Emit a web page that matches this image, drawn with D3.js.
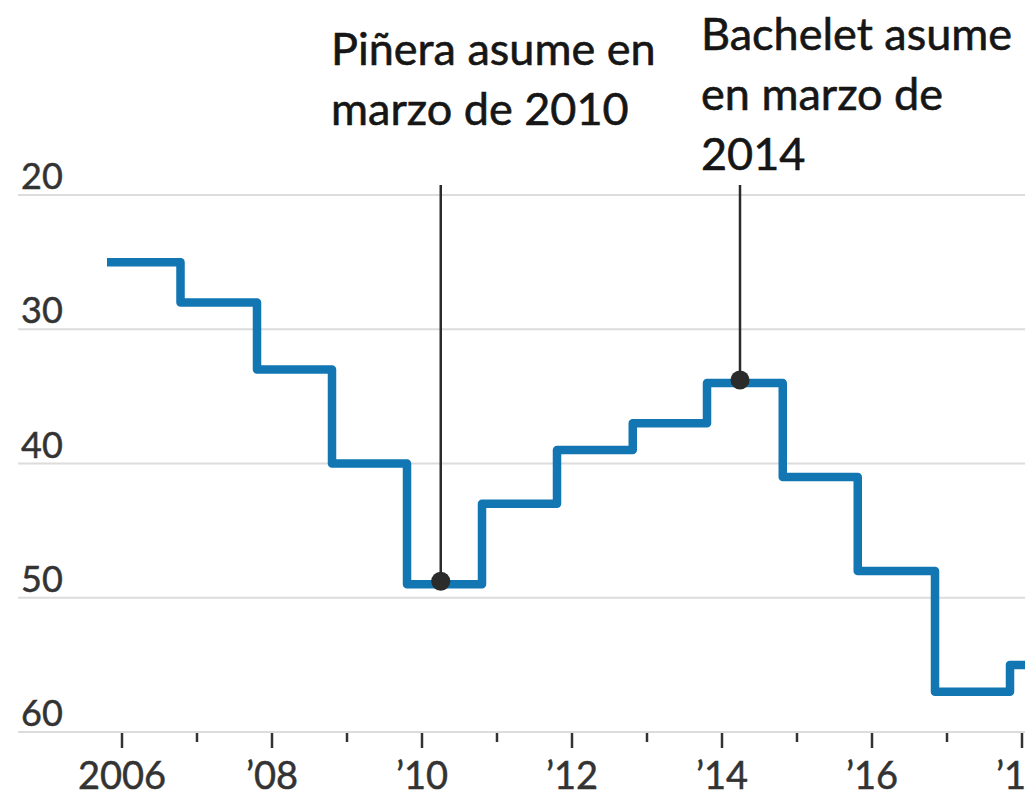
<!DOCTYPE html>
<html>
<head>
<meta charset="utf-8">
<script src="https://cdn.jsdelivr.net/npm/d3@7"></script>
<style>
  html, body { margin: 0; padding: 0; background: #fff; }
  svg { display: block; }
  .grid line { stroke: #dcdcdc; stroke-width: 2; }
  .ylab { font-family: Lato, "Open Sans", sans-serif; font-size: 36px; fill: #333; stroke: #333; stroke-width: 0.5; }
  .xlab { font-family: Lato, "Open Sans", sans-serif; font-size: 38px; fill: #333; stroke: #333; stroke-width: 0.5; }
  .note { font-family: Lato, "Open Sans", sans-serif; font-size: 45px; fill: #161616; stroke: #161616; stroke-width: 0.6; }
</style>
</head>
<body>
<svg id="chart"></svg>
<script>
  const width = 1025;
  const height = 797;

  // change dates (fractional years) and rank held from that date on
  const changeDates = [2005.8, 2006.78, 2007.8, 2008.8, 2009.8, 2010.8, 2011.8, 2012.81, 2013.8, 2014.81, 2015.81, 2016.84, 2017.84, 2018.5];
  const rankValues  = [25, 28, 33, 40, 49, 43, 39, 37, 34, 41, 48, 57, 55, 55];

  const yTicks = [20, 30, 40, 50, 60];
  const majorYears = [2006, 2008, 2010, 2012, 2014, 2016, 2018];
  const minorYears = [2007, 2009, 2011, 2013, 2015, 2017];
  const yearLabels = ["2006", "\u201908", "\u201910", "\u201912", "\u201914", "\u201916", "\u201918"];

  const noteDates = [2010.25, 2014.24];
  const noteRanks = [49, 34];
  const noteLines = [
    ["Piñera asume en", "marzo de 2010"],
    ["Bachelet asume", "en marzo de", "2014"]
  ];

  const x = d3.scaleLinear().domain([2006, 2018]).range([122, 1022]);
  const y = d3.scaleLinear().domain([20, 60]).range([195, 732]);

  const svg = d3.select("#chart")
    .attr("width", width)
    .attr("height", height);

  // gridlines + labels
  const grid = svg.append("g").attr("class", "grid");
  grid.selectAll("line")
    .data(yTicks)
    .enter()
    .append("line")
      .attr("x1", 18)
      .attr("x2", width)
      .attr("y1", d => y(d))
      .attr("y2", d => y(d));

  svg.append("g")
    .selectAll("text")
    .data(yTicks)
    .enter()
    .append("text")
      .attr("class", "ylab")
      .attr("x", 21)
      .attr("y", d => y(d) - 6)
      .text(d => d);

  // x axis ticks
  const xAxis = svg.append("g").attr("id", "x-axis");
  xAxis.selectAll(".major")
    .data(majorYears)
    .enter()
    .append("line")
      .attr("class", "major")
      .attr("x1", d => x(d))
      .attr("x2", d => x(d))
      .attr("y1", y(60) + 1)
      .attr("y2", y(60) + 16)
      .style("stroke", "#333")
      .style("stroke-width", 2.5);

  xAxis.selectAll(".minor")
    .data(minorYears)
    .enter()
    .append("line")
      .attr("class", "minor")
      .attr("x1", d => x(d))
      .attr("x2", d => x(d))
      .attr("y1", y(60) + 1)
      .attr("y2", y(60) + 10)
      .style("stroke", "#333")
      .style("stroke-width", 2.5);

  xAxis.selectAll("text")
    .data(majorYears)
    .enter()
    .append("text")
      .attr("class", "xlab")
      .attr("text-anchor", "middle")
      .attr("x", d => x(d))
      .attr("y", 789)
      .text((d, i) => yearLabels[i]);

  // step line
  const data = changeDates.map((d, i) => ({ date: d, rank: rankValues[i] }));
  const line = d3.line()
    .x(d => x(d.date))
    .y(d => y(d.rank))
    .curve(d3.curveStepAfter);

  svg.append("path")
    .datum(data)
    .attr("d", line)
    .style("fill", "none")
    .style("stroke", "#1176b2")
    .style("stroke-width", 8.5)
    .style("stroke-linejoin", "round");

  // annotations
  const notes = svg.append("g").attr("id", "notes");
  noteDates.forEach((d, i) => {
    notes.append("line")
      .attr("x1", x(d))
      .attr("x2", x(d))
      .attr("y1", y(20) - 10)
      .attr("y2", y(noteRanks[i]))
      .style("stroke", "#2b2b2b")
      .style("stroke-width", 2.5);
    notes.append("circle")
      .attr("cx", x(d))
      .attr("cy", y(noteRanks[i]) - 3)
      .attr("r", 9.5)
      .style("fill", "#2b2b2b");
  });

  const noteX = [331, 701];
  const noteTop = [65, 50];
  noteLines.forEach((lines, i) => {
    notes.append("text")
      .attr("class", "note")
      .selectAll("tspan")
      .data(lines)
      .enter()
      .append("tspan")
        .attr("x", noteX[i])
        .attr("y", (d, j) => noteTop[i] + j * 60)
        .text(d => d);
  });
</script>
</body>
</html>
